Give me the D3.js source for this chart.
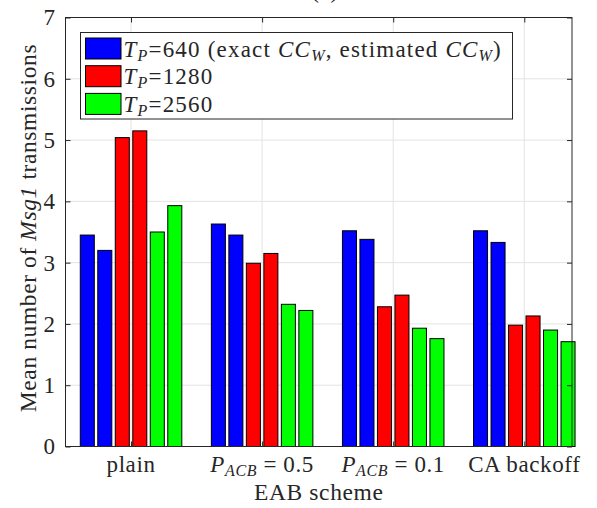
<!DOCTYPE html>
<html>
<head>
<meta charset="utf-8">
<script src="https://cdn.jsdelivr.net/npm/d3@7"></script>
<style>
  body { margin: 0; background: #fff; }
  svg text { font-family: "Liberation Serif", "Times New Roman", "DejaVu Serif", serif; fill: #262626; letter-spacing: 0.6px; }
</style>
</head>
<body>
<svg id="chart" width="597" height="508"></svg>
<script>
// categories along x
const schemes = ['plain', 'P_ACB = 0.5', 'P_ACB = 0.1', 'CA backoff'];
// two bars per T_P value (exact CC_W, estimated CC_W)
const tp640 = [[3.45, 3.20], [3.63, 3.45], [3.52, 3.38], [3.52, 3.33]];
const tp1280 = [[5.04, 5.15], [2.99, 3.15], [2.28, 2.47], [1.98, 2.13]];
const tp2560 = [[3.50, 3.93], [2.32, 2.22], [1.93, 1.76], [1.90, 1.71]];
const yTicks = [0, 1, 2, 3, 4, 5, 6, 7];
const seriesNames = ['640 (exact ', '1280', '2560'];
const colors = ['#0000ff', '#ff0000', '#00ff00'];

const svg = d3.select('#chart');
const margin = { left: 65.5, top: 17.5, right: 25, bottom: 61.5 };
const width = 597 - margin.left - margin.right;
const height = 508 - margin.top - margin.bottom;

const x = d3.scaleLinear().domain([0.5, 4.364]).range([0, width]);
const y = d3.scaleLinear().domain([0, 7]).range([height, 0]);

const g = svg.append('g').attr('transform', `translate(${margin.left},${margin.top})`);

// title, cut off at the top of the figure as in the original
svg.append('text')
  .attr('x', 325).attr('y', -2)
  .attr('text-anchor', 'middle')
  .style('font-size', '23px')
  .text('(a)');

// grid
g.selectAll('.hgrid').data(yTicks.slice(1, -1)).enter().append('line')
  .attr('x1', 0).attr('x2', width)
  .attr('y1', d => y(d)).attr('y2', d => y(d))
  .attr('stroke', '#e3e3e3').attr('stroke-width', 1);
g.selectAll('.vgrid').data(schemes).enter().append('line')
  .attr('x1', (d, i) => x(i + 1)).attr('x2', (d, i) => x(i + 1))
  .attr('y1', 0).attr('y2', height)
  .attr('stroke', '#e3e3e3').attr('stroke-width', 1);

// bars
const series = [tp640, tp1280, tp2560];
const pitch = 0.1335, barW = 0.107;
const bars = [];
series.forEach((s, si) => {
  s.forEach((pair, gi) => {
    pair.forEach((v, k) => {
      const idx = si * 2 + k;
      bars.push({ c: gi + 1 + (idx - 2.5) * pitch, v: v, color: colors[si] });
    });
  });
});
g.selectAll('.bar').data(bars).enter().append('rect')
  .attr('x', d => x(d.c - barW / 2))
  .attr('width', d => x(d.c + barW / 2) - x(d.c - barW / 2))
  .attr('y', d => y(d.v))
  .attr('height', d => y(0) - y(d.v))
  .attr('fill', d => d.color)
  .attr('stroke', '#000').attr('stroke-width', 1);

// axes box with inward ticks
const axisColor = '#262626';
g.append('rect').attr('x', 0).attr('y', 0).attr('width', width).attr('height', height)
  .attr('fill', 'none').attr('stroke', axisColor).attr('stroke-width', 1);

const yAxis = g.append('g')
  .call(d3.axisLeft(y).tickValues(yTicks).tickFormat(d3.format('d')).tickSize(-5).tickPadding(10));
yAxis.attr('font-family', null);
yAxis.select('.domain').remove();
yAxis.selectAll('line').attr('stroke', axisColor);
yAxis.selectAll('text').style('font-size', '23px').attr('fill', axisColor);

const yAxisR = g.append('g').attr('transform', `translate(${width},0)`)
  .call(d3.axisRight(y).tickValues(yTicks).tickSize(-5).tickFormat(''));
yAxisR.select('.domain').remove();
yAxisR.selectAll('line').attr('stroke', axisColor);

const xAxis = g.append('g').attr('transform', `translate(0,${height})`)
  .call(d3.axisBottom(x).tickValues([1, 2, 3, 4]).tickSize(-5).tickFormat(''));
xAxis.select('.domain').remove();
xAxis.selectAll('line').attr('stroke', axisColor);
const xAxisT = g.append('g')
  .call(d3.axisTop(x).tickValues([1, 2, 3, 4]).tickSize(-5).tickFormat(''));
xAxisT.select('.domain').remove();
xAxisT.selectAll('line').attr('stroke', axisColor);

// x tick labels (with subscripts)
schemes.forEach((s, i) => {
  const t = g.append('text')
    .attr('x', x(i + 1)).attr('y', height + 25)
    .attr('text-anchor', 'middle')
    .style('font-size', '23px');
  if (s.startsWith('P_ACB')) {
    t.append('tspan').style('font-style', 'italic').text('P');
    t.append('tspan').attr('dy', 4).style('font-size', '16px').style('font-style', 'italic').text('ACB');
    t.append('tspan').attr('dy', -4).text(' = ' + s.split('= ')[1]);
  } else {
    t.text(s);
  }
});

// axis labels
g.append('text')
  .attr('x', width / 2).attr('y', height + 53)
  .attr('text-anchor', 'middle')
  .style('font-size', '23.5px')
  .text('EAB scheme');

const yl = g.append('text')
  .attr('transform', `translate(-30,${height / 2 - 4}) rotate(-90)`)
  .attr('text-anchor', 'middle')
  .style('font-size', '23.5px');
yl.append('tspan').text('Mean number of ');
yl.append('tspan').style('font-style', 'italic').text('Msg1');
yl.append('tspan').text(' transmissions');

// legend
const leg = g.append('g').attr('transform', `translate(${80.5 - margin.left},${32.5 - margin.top})`);
leg.append('rect').attr('width', 432).attr('height', 86.5)
  .attr('fill', '#fff').attr('stroke', axisColor).attr('stroke-width', 1);
seriesNames.forEach((name, i) => {
  const ry = 5.5 + i * 27.7;
  leg.append('rect').attr('x', 5).attr('y', ry).attr('width', 35.5).attr('height', 21)
    .attr('fill', colors[i]).attr('stroke', '#000').attr('stroke-width', 1);
  const t = leg.append('text').attr('x', 43).attr('y', ry + 18.5)
    .style('font-size', '23px').style('letter-spacing', '1.2px');
  t.append('tspan').style('font-style', 'italic').text('T');
  t.append('tspan').attr('dy', 4).style('font-size', '16px').style('font-style', 'italic').text('P');
  t.append('tspan').attr('dy', -4).text('=' + name);
  if (i === 0) {
    t.append('tspan').style('font-style', 'italic').text('CC');
    t.append('tspan').attr('dy', 4).style('font-size', '16px').style('font-style', 'italic').text('W');
    t.append('tspan').attr('dy', -4).text(', estimated ');
    t.append('tspan').style('font-style', 'italic').text('CC');
    t.append('tspan').attr('dy', 4).style('font-size', '16px').style('font-style', 'italic').text('W');
    t.append('tspan').attr('dy', -4).text(')');
  }
});
</script>
</body>
</html>
